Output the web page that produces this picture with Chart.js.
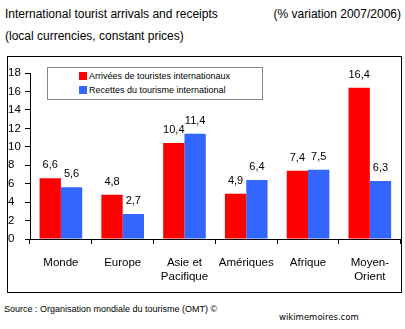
<!DOCTYPE html>
<html>
<head>
<meta charset="utf-8">
<script src="https://cdn.jsdelivr.net/npm/chart.js@4"></script>
<style>
  body { margin: 0; background: #fff; font-family: "Liberation Sans", Arial, sans-serif; }
  #page { position: relative; width: 405px; height: 329px; overflow: hidden; }
  .txt { position: absolute; white-space: nowrap; color: #000; }
  #frame { position: absolute; left: 7px; top: 56px; width: 393px; height: 235px; border: 1px solid #000; }
  #chartBox { position: absolute; left: 8px; top: 57px; width: 393px; height: 235px; }
  #legend { position: absolute; left: 47px; top: 67px; width: 214px; height: 31px; border: 1px solid #888; background: #fff;
            font-size: 9px; }
  #legend .row { position: absolute; left: 31px; height: 10px; line-height: 10px; }
  #legend .sw { display: inline-block; width: 8px; height: 8px; vertical-align: -1px; margin-right: 2px; }
</style>
</head>
<body>
<div id="page">
  <div class="txt" style="left:5px;top:7px;font-size:12px;">International tourist arrivals and receipts</div>
  <div class="txt" style="right:4px;top:7px;font-size:12px;">(% variation 2007/2006)</div>
  <div class="txt" style="left:5px;top:29px;font-size:12px;">(local currencies, constant prices)</div>

  <div id="frame"></div>
  <div id="chartBox"><canvas id="myChart" width="393" height="235"></canvas></div>
  <div id="legend"></div>

  <div class="txt" style="left:4px;top:304px;font-size:9px;">Source : Organisation mondiale du tourisme (OMT) ©</div>
  <div class="txt" style="left:279px;top:312px;font-size:8.5px;font-family:'DejaVu Sans';">wikimemoires.com</div>
</div>

<script>
// Chart data
let regions = [["Monde"], ["Europe"], ["Asie et", "Pacifique"], ["Amériques"], ["Afrique"], ["Moyen-", "Orient"]];
let arrivals = [6.6, 4.8, 10.4, 4.9, 7.4, 16.4];
let receipts = [5.6, 2.7, 11.4, 6.4, 7.5, 6.3];
let seriesNames = ["Arrivées de touristes internationaux", "Recettes du tourisme international"];
let seriesColors = ["#ff0000", "#3366ff"];
let yTicks = [0, 2, 4, 6, 8, 10, 12, 14, 16, 18];

// values written above the bars, with a comma as decimal mark
const valueLabels = {
    id: "valueLabels",
    afterDatasetsDraw(chart) {
        let ctx = chart.ctx;
        ctx.save();
        ctx.font = "11px 'Liberation Sans', Arial, sans-serif";
        ctx.fillStyle = "#000";
        ctx.textAlign = "center";
        ctx.textBaseline = "alphabetic";
        chart.data.datasets.forEach(function (ds, i) {
            let meta = chart.getDatasetMeta(i);
            meta.data.forEach(function (bar, j) {
                let txt = ds.data[j].toFixed(1).replace(".", ",");
                ctx.fillText(txt, bar.x, bar.y - 10);
            });
        });
        ctx.restore();
    }
};

let myChart = new Chart(document.getElementById("myChart"), {
    type: "bar",
    data: {
        labels: regions,
        datasets: [
            { label: seriesNames[0], data: arrivals, backgroundColor: seriesColors[0] },
            { label: seriesNames[1], data: receipts, backgroundColor: seriesColors[1] }
        ]
    },
    options: {
        responsive: false,
        animation: false,
        layout: { padding: { top: 16, right: 0, left: 0, bottom: 0 } },
        datasets: { bar: { categoryPercentage: 0.69, barPercentage: 1 } },
        plugins: { legend: { display: false }, tooltip: { enabled: false } },
        scales: {
            x: {
                grid: { offset: true, drawOnChartArea: false, drawTicks: true, tickLength: 5, color: "#000" },
                border: { display: true, color: "#000" },
                ticks: { color: "#000", padding: 12, maxRotation: 0, autoSkip: false,
                         font: { family: "'Liberation Sans', Arial, sans-serif", size: 11.5, lineHeight: 1.2 } },
                afterFit(scale) { scale.height = 53; }
            },
            y: {
                min: 0,
                max: 18,
                afterBuildTicks(scale) { scale.ticks = yTicks.map(function (v) { return { value: v }; }); },
                grid: { drawOnChartArea: false, drawTicks: true, tickLength: 5, color: "#000" },
                border: { display: true, color: "#000" },
                ticks: { color: "#000", padding: 2, align: "center", crossAlign: "far",
                         font: { family: "'Liberation Sans', Arial, sans-serif", size: 11.5 } },
                afterFit(scale) { scale.width = 22; }
            }
        }
    },
    plugins: [valueLabels]
});

// legend box built from the datasets
let legend = document.getElementById("legend");
myChart.data.datasets.forEach(function (ds, i) {
    let row = document.createElement("div");
    row.className = "row";
    row.style.top = (3 + i * 14) + "px";
    row.innerHTML = '<span class="sw" style="background:' + ds.backgroundColor + '"></span>' + ds.label;
    legend.appendChild(row);
});
</script>
</body>
</html>
